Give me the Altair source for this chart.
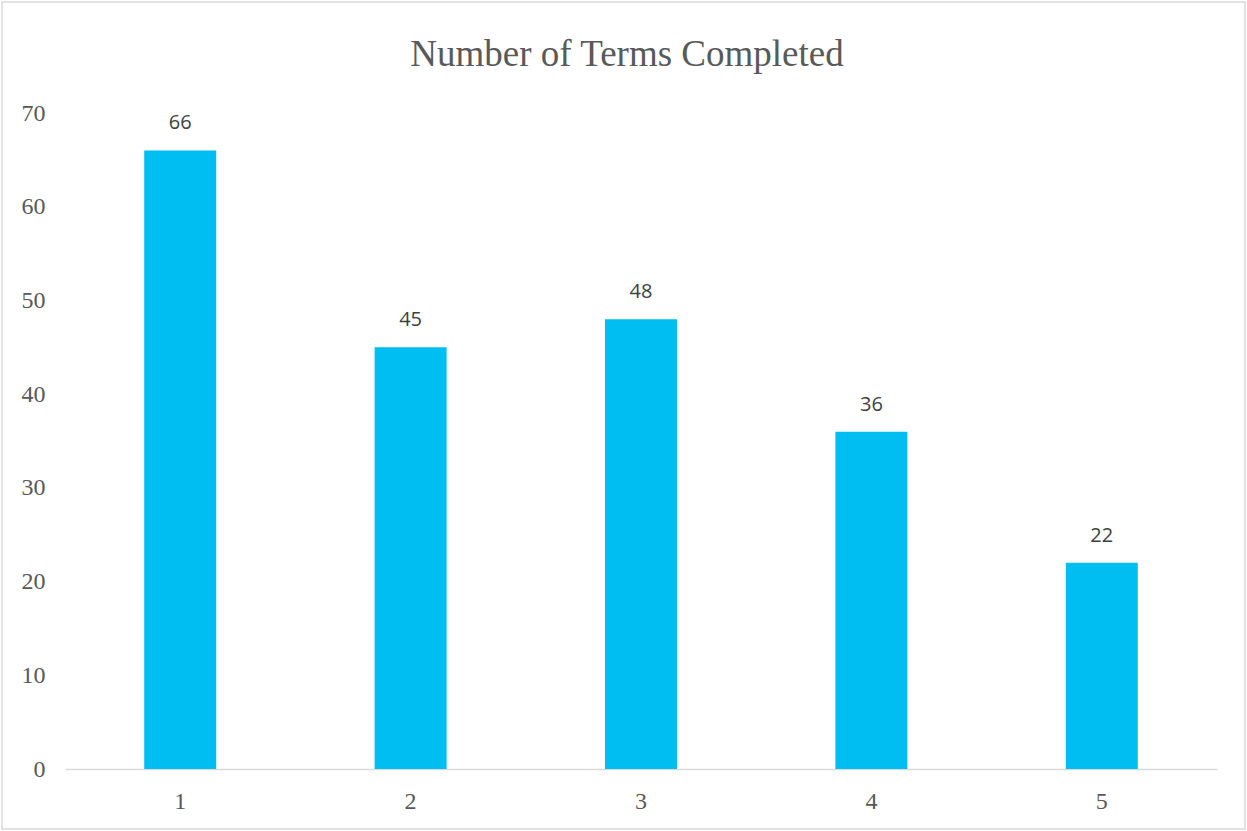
import altair as alt
import pandas as pd

terms = ["1", "2", "3", "4", "5"]
counts = [66, 45, 48, 36, 22]

df = pd.DataFrame({"term": terms, "count": counts})

SERIF = "Liberation Serif"
GRAY = "#595959"

base = alt.Chart(df).encode(
    x=alt.X(
        "term:N",
        sort=terms,
        title=None,
        scale=alt.Scale(paddingInner=0.6875, paddingOuter=0.34375),
        axis=alt.Axis(
            labelAngle=0,
            ticks=False,
            tickSize=0,
            domain=True,
            domainColor="#d9d9d9",
            domainWidth=1.5,
            labelFont=SERIF,
            labelFontSize=24,
            labelColor=GRAY,
            labelPadding=39,
            labelBaseline="alphabetic",
            grid=False,
        ),
    ),
    y=alt.Y(
        "count:Q",
        title=None,
        scale=alt.Scale(domain=[0, 70], nice=False),
        axis=alt.Axis(
            values=[0, 10, 20, 30, 40, 50, 60, 70],
            ticks=False,
            tickSize=0,
            domain=False,
            grid=False,
            labelFont=SERIF,
            labelFontSize=24,
            labelColor=GRAY,
            labelPadding=20,
        ),
    ),
)

bars = base.mark_bar(color="#00BEF2")
labels = base.mark_text(
    baseline="alphabetic",
    dy=-21,
    font="Open Sans",
    fontSize=20,
    color="#404040",
).encode(text="count:Q")

border = alt.Chart(pd.DataFrame({"a": [0]})).mark_rect(
    fill=None, stroke="#d9d9d9", strokeWidth=1.5
).encode(
    x=alt.value(-63), x2=alt.value(1180), y=alt.value(-111), y2=alt.value(716)
)

chart = (
    alt.layer(border, bars, labels)
    .properties(
        width=1152,
        height=656,
        background="white",
        autosize=alt.AutoSizeParams(type="none"),
        padding={"left": 65, "top": 113, "right": 30, "bottom": 62},
        title=alt.TitleParams(
            "Number of Terms Completed",
            font=SERIF,
            fontSize=37,
            fontWeight="normal",
            color=GRAY,
            anchor="middle",
            frame="group",
            baseline="alphabetic",
            offset=-102,
            dx=-14,
        ),
    )
    .configure_view(strokeWidth=0, stroke="transparent")
)

chart.save("out.html", embed_options={"renderer": "svg", "actions": False})
